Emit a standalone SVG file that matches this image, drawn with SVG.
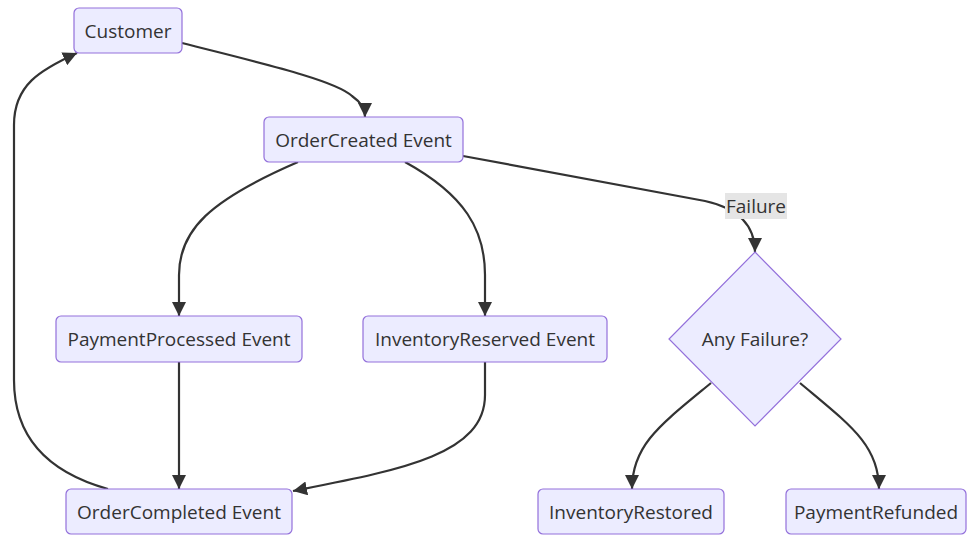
<svg xmlns="http://www.w3.org/2000/svg" width="967" height="536" viewBox="0 0 967 536">
<style>
.node rect, .node polygon { fill: #ECECFF; stroke: #9370DB; stroke-width: 1.2; }
.node text, .lbl text { font-family: "Open Sans", "Liberation Sans", sans-serif; font-size: 19px; fill: #333333; text-anchor: middle; dominant-baseline: central; }
.edges path { fill: none; stroke: #333333; stroke-width: 2.2; }
.lbl rect { fill: #E5E5E5; }
</style>
<defs>
<marker id="arrow" viewBox="0 0 10 10" refX="10" refY="5" markerUnits="userSpaceOnUse" markerWidth="14" markerHeight="14" orient="auto">
<path d="M0,0 L10,5 L0,10 z" fill="#333333"/>
</marker>
</defs>
<rect width="967" height="536" fill="#FFFFFF"/>
<g class="edges">
<path d="M182,43 C260,63 335,80 352,96 Q365,105 365,117" marker-end="url(#arrow)"/>
<path d="M298,162 C210,200 179,230 179,275 L179,316" marker-end="url(#arrow)"/>
<path d="M405,162 C465,195 485,230 485,275 L485,316" marker-end="url(#arrow)"/>
<path d="M463,156 L705,201 Q755,212 755,252" marker-end="url(#arrow)"/>
<path d="M179,362 L179,489" marker-end="url(#arrow)"/>
<path d="M485,362 L485,395 C485,455 400,470 293,491" marker-end="url(#arrow)"/>
<path d="M108,489 C40,470 14,430 14,380 L14,125 C14,85 40,70 77,53" marker-end="url(#arrow)"/>
<path d="M711,383 C660,425 632,445 632,489" marker-end="url(#arrow)"/>
<path d="M800,383 C850,425 879,445 879,489" marker-end="url(#arrow)"/>
</g>
<g class="lbl" id="label-failure">
<rect x="725" y="193" width="62" height="26"/>
<text x="756" y="206">Failure</text>
</g>
<g class="node" id="customer">
<rect x="74" y="8" width="108" height="45" rx="5"/>
<text x="128" y="30.5">Customer</text>
</g>
<g class="node" id="orderCreated">
<rect x="264" y="117" width="199" height="45" rx="5"/>
<text x="363.5" y="139.5">OrderCreated Event</text>
</g>
<g class="node" id="paymentProcessed">
<rect x="56" y="316" width="246" height="46" rx="5"/>
<text x="179" y="339">PaymentProcessed Event</text>
</g>
<g class="node" id="inventoryReserved">
<rect x="363" y="316" width="244" height="46" rx="5"/>
<text x="485" y="339">InventoryReserved Event</text>
</g>
<g class="node" id="anyFailure">
<polygon points="755,252 841,339 755,426 669,339"/>
<text x="755" y="339">Any Failure?</text>
</g>
<g class="node" id="orderCompleted">
<rect x="66" y="489" width="226" height="45" rx="5"/>
<text x="179" y="511.5">OrderCompleted Event</text>
</g>
<g class="node" id="inventoryRestored">
<rect x="538" y="489" width="186" height="45" rx="5"/>
<text x="631" y="511.5">InventoryRestored</text>
</g>
<g class="node" id="paymentRefunded">
<rect x="786" y="489" width="180" height="45" rx="5"/>
<text x="876" y="511.5">PaymentRefunded</text>
</g>
</svg>
